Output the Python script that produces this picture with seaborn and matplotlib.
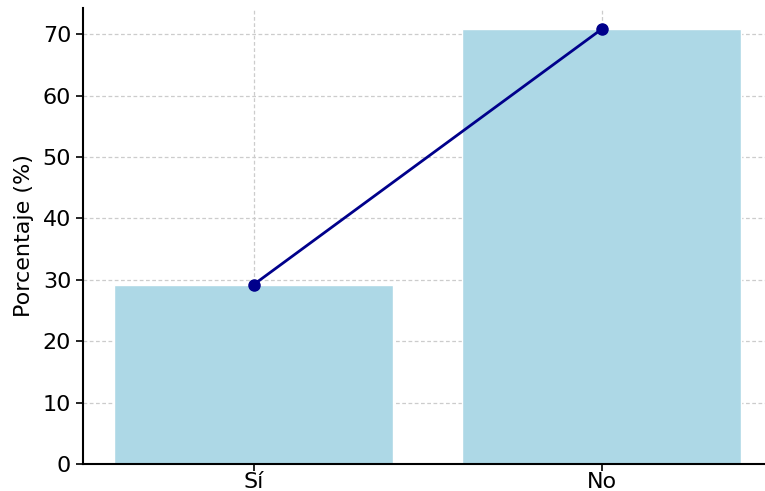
import matplotlib
matplotlib.use("Agg")
import matplotlib.pyplot as plt
import seaborn as sns

# data
categorias = ["Sí", "No"]
porcentajes = [29.2, 70.8]

sns.set_style("white")
plt.rcParams['font.family'] = ['DejaVu Sans']
plt.rcParams['text.color'] = 'black'
plt.rcParams['axes.labelcolor'] = 'black'
plt.rcParams['xtick.color'] = 'black'
plt.rcParams['ytick.color'] = 'black'

fig = plt.figure(figsize=(7.65, 4.91), dpi=100)
ax = fig.add_axes([0.1085, 0.055, 0.9007, 0.9297])

sns.barplot(x=categorias, y=porcentajes, color="lightblue", width=0.8,
            saturation=1, ax=ax, zorder=2)
ax.plot(categorias, porcentajes, color="darkblue", marker="o",
        markersize=8, linewidth=2, zorder=4)

ax.set_ylabel("Porcentaje (%)", fontsize=16, labelpad=6)
ax.set_xlabel("")
ax.set_yticks(range(0, 80, 10))
ax.tick_params(axis="both", labelsize=16, direction="out", length=5,
               width=1.2, left=True, bottom=True)
ax.tick_params(axis="x", pad=1)
ax.grid(True, linestyle=(0, (3, 2)), color="#cccccc", linewidth=0.9, zorder=0)
ax.set_axisbelow(True)
ax.set_xlim(-0.49, 1.49)
ax.set_ylim(0, 74.34)
for s in ["top", "right"]:
    ax.spines[s].set_visible(False)
for s in ["left", "bottom"]:
    ax.spines[s].set_linewidth(1.5)
    ax.spines[s].set_color("black")

plt.savefig("out.png", dpi=100)
